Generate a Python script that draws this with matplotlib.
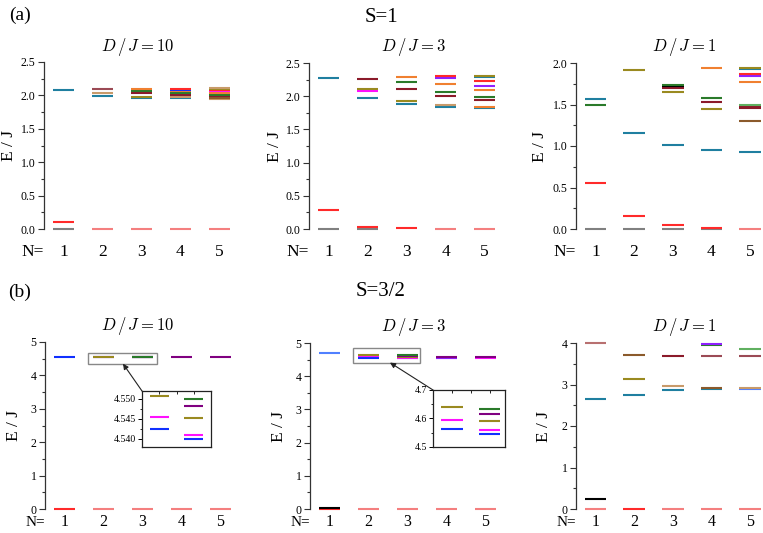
import matplotlib
matplotlib.use('Agg')
import matplotlib.pyplot as plt
import numpy as np
from matplotlib.patches import Rectangle, ConnectionPatch
from matplotlib.ticker import MultipleLocator, FormatStrFormatter

plt.rcParams['font.family'] = ['Liberation Serif', 'DejaVu Serif']
plt.rcParams['mathtext.fontset'] = 'cm'

# ---------------- colours ----------------
GRAY = '#808080'; RED = '#ff2a2a'; SALMON = '#f47f7f'; TEAL = '#1f7fa0'
GREEN = '#2a7a2a'; DKRED = '#8b1a2a'; OLIVE = '#9a8a20'; MAG = '#ff10ff'
BLUE = '#1030ff'; PURPLE = '#800080'; VIOLET = '#9020ff'; ORANGE = '#f08030'
TAN = '#c89a6a'; BROWN = '#8b5a2b'; BLACK = '#000000'; ROSE = '#b87070'
RBROWN = '#9b4a55'; LGREEN = '#60b060'; LBLUE = '#5080ff'

# ---------------- data ----------------
n_values = [1, 2, 3, 4, 5]

# S=1, D/J=10
a1_N = [1, 1, 1,
        2, 2, 2, 2,
        3, 3, 3, 3, 3, 3,
        4, 4, 4, 4, 4, 4, 4, 4,
        5, 5, 5, 5, 5, 5, 5, 5, 5, 5]
a1_E = [0.0, 0.10, 2.086,
        0.0, 2.091, 2.036, 1.991,
        0.0, 2.101, 2.071, 2.036, 1.976, 1.961,
        0.0, 2.103, 2.086, 2.061, 2.036, 2.011, 1.971, 1.956,
        0.0, 2.111, 2.101, 2.076, 2.061, 2.036, 2.011, 1.986, 1.961, 1.951]
a1_c = [GRAY, RED, TEAL,
        SALMON, RBROWN, TAN, TEAL,
        SALMON, ORANGE, GREEN, DKRED, OLIVE, TEAL,
        SALMON, RED, BLUE, ORANGE, GREEN, DKRED, TAN, TEAL,
        SALMON, TAN, OLIVE, RED, MAG, ORANGE, GREEN, DKRED, BROWN, TAN]

# S=1, D/J=3
a2_N = [1, 1, 1,
        2, 2, 2, 2, 2, 2,
        3, 3, 3, 3, 3, 3,
        4, 4, 4, 4, 4, 4, 4, 4,
        5, 5, 5, 5, 5, 5, 5, 5, 5, 5]
a2_E = [0.0, 0.28, 2.28,
        0.0, 0.03, 2.26, 2.11, 2.08, 1.98,
        0.01, 2.29, 2.21, 2.11, 1.93, 1.89,
        0.0, 2.31, 2.27, 2.19, 2.07, 2.01, 1.87, 1.84,
        0.0, 2.31, 2.29, 2.23, 2.16, 2.09, 1.99, 1.94, 1.83, 1.82]
a2_c = [GRAY, RED, TEAL,
        GRAY, RED, DKRED, OLIVE, MAG, TEAL,
        RED, ORANGE, GREEN, DKRED, OLIVE, TEAL,
        SALMON, RED, VIOLET, ORANGE, GREEN, DKRED, TAN, TEAL,
        SALMON, OLIVE, TEAL, RED, VIOLET, ORANGE, GREEN, DKRED, ORANGE, TEAL]

# S=1, D/J=1
a3_N = [1, 1, 1, 1,
        2, 2, 2, 2,
        3, 3, 3, 3, 3, 3, 3,
        4, 4, 4, 4, 4, 4, 4,
        5, 5, 5, 5, 5, 5, 5, 5, 5, 5, 5]
a3_E = [0.0, 0.56, 1.49, 1.565,
        0.0, 0.16, 1.155, 1.92,
        0.0, 0.05, 1.015, 1.65, 1.70, 1.72, 1.74,
        0.0, 0.015, 0.955, 1.445, 1.525, 1.575, 1.94,
        0.0, 0.925, 1.297, 1.46, 1.475, 1.494, 1.775, 1.84, 1.87, 1.93, 1.94]
a3_c = [GRAY, RED, GREEN, TEAL,
        GRAY, RED, TEAL, OLIVE,
        GRAY, RED, TEAL, OLIVE, DKRED, BLACK, GREEN,
        GRAY, RED, TEAL, OLIVE, DKRED, GREEN, ORANGE,
        SALMON, TEAL, BROWN, DKRED, DKRED, LGREEN, ORANGE, VIOLET, RED, TEAL, OLIVE]

# S=3/2, D/J=10
b1_N = [1, 1,
        2, 2, 2, 2,
        3, 3, 3, 3, 3, 3,
        4, 4,
        5, 5]
b1_E = [0.0, 4.550,
        0.0, 4.5508, 4.5456, 4.5424,
        0.0, 4.5500, 4.5483, 4.5452, 4.5410, 4.5401,
        0.0, 4.545,
        0.0, 4.545]
b1_c = [RED, BLUE,
        SALMON, OLIVE, MAG, BLUE,
        SALMON, GREEN, PURPLE, OLIVE, MAG, BLUE,
        SALMON, PURPLE,
        SALMON, PURPLE]

# S=3/2, D/J=3
b2_N = [1, 1, 1,
        2, 2, 2, 2,
        3, 3, 3, 3, 3, 3,
        4, 4, 4, 4,
        5, 5, 5]
b2_E = [0.0, 0.03, 4.70,
        0.0, 4.641, 4.595, 4.563,
        0.0, 4.635, 4.616, 4.592, 4.558, 4.546,
        0.0, 4.545, 4.56, 4.575,
        0.0, 4.55, 4.565]
b2_c = [RED, BLACK, LBLUE,
        SALMON, OLIVE, MAG, BLUE,
        SALMON, GREEN, PURPLE, OLIVE, MAG, BLUE,
        SALMON, MAG, VIOLET, PURPLE,
        SALMON, MAG, PURPLE]

# S=3/2, D/J=1
b3_N = [1, 1, 1, 1,
        2, 2, 2, 2,
        3, 3, 3, 3,
        4, 4, 4, 4, 4, 4,
        5, 5, 5, 5, 5]
b3_E = [0.0, 0.23, 2.64, 4.0,
        0.0, 2.75, 3.14, 3.72,
        0.0, 2.87, 2.97, 3.69,
        0.0, 2.90, 2.92, 3.69, 3.955, 3.975,
        0.0, 2.90, 2.92, 3.69, 3.855]
b3_c = [SALMON, BLACK, TEAL, ROSE,
        RED, TEAL, OLIVE, BROWN,
        SALMON, TEAL, TAN, DKRED,
        SALMON, TEAL, BROWN, RBROWN, GREEN, VIOLET,
        SALMON, LBLUE, TAN, RBROWN, LGREEN]

row_titles = ['S=1', 'S=3/2']
panel_titles = [r'$D\,/\,J = 10$', r'$D\,/\,J = 3$', r'$D\,/\,J = 1$']

# ---------------- figure ----------------
W, H = 763, 533
fig = plt.figure(figsize=(W / 100, H / 100), dpi=100)
HW = 0.28


def px_axes(x0, x1, ytop, ybot):
    return fig.add_axes([x0 / W, (H - ybot) / H, (x1 - x0) / W, (ybot - ytop) / H])


def style_main(ax, xlim, ylim, major, fmt, label_off, xpad, xsize, n_off, n_size):
    ax.set_xlim(*xlim)
    ax.set_ylim(*ylim)
    for s in ['top', 'right', 'bottom']:
        ax.spines[s].set_visible(False)
    ax.spines['left'].set_color('#333333')
    ax.spines['left'].set_linewidth(0.9)
    ax.set_xticks(n_values)
    ax.set_xticklabels([str(n) for n in n_values])
    ax.tick_params(axis='x', length=0, pad=xpad, labelsize=xsize)
    ax.yaxis.set_major_locator(MultipleLocator(major))
    ax.yaxis.set_minor_locator(MultipleLocator(major / 2))
    ax.yaxis.set_major_formatter(FormatStrFormatter(fmt))
    ax.tick_params(axis='y', which='major', direction='out', length=4, width=0.8,
                   labelsize=8.5, pad=2, color='#333333')
    ax.tick_params(axis='y', which='minor', direction='out', length=2, width=0.8,
                   color='#333333')
    ax.set_ylabel('E / J', fontsize=12.5)
    bb = ax.get_position()
    ax.yaxis.set_label_coords(-label_off / (bb.width * W), 0.5)
    ax.text(0.0, -n_off / (bb.height * H), 'N=', transform=ax.transAxes,
            ha='right', va='top', fontsize=n_size)


def draw(ax, Ns, Es, cs, clip=False):
    order = np.argsort(np.asarray(Es), kind='stable')
    Ns = np.asarray(Ns, dtype=float)[order]
    Es = np.asarray(Es)[order]
    cs = [cs[i] for i in order]
    ax.hlines(Es, Ns - HW, Ns + HW, colors=cs, lw=1.5, clip_on=clip)


# row (a)
ax_a1 = px_axes(44, 239, 62, 229)
ax_a2 = px_axes(309, 504, 63, 229)
ax_a3 = px_axes(576, 763, 63, 229)
# row (b)
ax_b1 = px_axes(45, 240, 342, 509)
ax_b2 = px_axes(310, 505, 343, 509)
ax_b3 = px_axes(576, 763, 343, 509)

style_main(ax_a1, (0.5, 5.5), (0, 2.5), 0.5, '%.1f', 27, 11, 12.5, 15, 12.5)
style_main(ax_a2, (0.5, 5.5), (0, 2.5), 0.5, '%.1f', 26, 11, 12.5, 15, 12.5)
style_main(ax_a3, (0.5, 5.335), (0, 2.0), 0.5, '%.1f', 28, 11, 12.5, 15, 12.5)
style_main(ax_b1, (0.5, 5.5), (0, 5), 1, '%d', 23, 3.5, 11.5, 7, 11)
style_main(ax_b2, (0.5, 5.5), (0, 5), 1, '%d', 23, 3.5, 11.5, 7, 11)
style_main(ax_b3, (0.5, 5.335), (0, 4), 1, '%d', 24, 3.5, 11.5, 7, 11)

draw(ax_a1, a1_N, a1_E, a1_c)
draw(ax_a2, a2_N, a2_E, a2_c)
draw(ax_a3, a3_N, a3_E, a3_c)
draw(ax_b1, b1_N, b1_E, b1_c)
draw(ax_b2, b2_N, b2_E, b2_c)
draw(ax_b3, b3_N, b3_E, b3_c)

# panel titles
for (xc, yc), t in zip([(137.5, 47.5), (413.5, 47.5), (684, 47.5)], panel_titles):
    fig.text(xc / W, 1 - yc / H, t, ha='center', va='center', fontsize=12)
for (xc, yc), t in zip([(137, 326), (413.5, 327), (684, 327)], panel_titles):
    fig.text(xc / W, 1 - yc / H, t, ha='center', va='center', fontsize=12)

fig.text(381 / W, 1 - 17 / H, row_titles[0], ha='center', va='center', fontsize=15)
fig.text(381 / W, 1 - 292 / H, row_titles[1], ha='center', va='center', fontsize=15)
fig.text(20 / W, 1 - 15 / H, '(a)', ha='center', va='center', fontsize=14)
fig.text(20 / W, 1 - 292 / H, '(b)', ha='center', va='center', fontsize=14)


# ---------------- insets ----------------
def make_inset(main_ax, rect_px, xlim, ylim, major, fmt, Ns, Es, cs, box, head):
    x0, x1, yt, yb = rect_px
    ins = px_axes(x0, x1, yt, yb)
    ins.set_xlim(*xlim)
    ins.set_ylim(*ylim)
    for s in ins.spines.values():
        s.set_color('#222222')
        s.set_linewidth(0.9)
    ins.set_xticks([2, 2.5, 3])
    ins.tick_params(axis='x', top=True, bottom=False, labeltop=False, labelbottom=False,
                    direction='in', length=2.5, width=0.6)
    ins.yaxis.set_major_locator(MultipleLocator(major))
    ins.yaxis.set_minor_locator(MultipleLocator(major / 2))
    ins.yaxis.set_major_formatter(FormatStrFormatter(fmt))
    ins.tick_params(axis='y', which='major', direction='out', length=3, width=0.7,
                    labelsize=7, pad=1.5)
    ins.tick_params(axis='y', which='minor', direction='out', length=1.5, width=0.6)
    sel = [i for i, n in enumerate(Ns) if n in (2, 3)]
    draw(ins, [Ns[i] for i in sel], [Es[i] for i in sel], [cs[i] for i in sel], clip=True)
    bx0, bx1, by0, by1 = box
    main_ax.add_patch(Rectangle((bx0, by0), bx1 - bx0, by1 - by0, fill=False,
                                edgecolor='#888888', lw=1.0, clip_on=False, zorder=5))
    con = ConnectionPatch(xyA=(0, 1), coordsA=ins.transAxes, xyB=head,
                          coordsB=main_ax.transData, arrowstyle='-|>',
                          mutation_scale=8, color='#222222', lw=0.8)
    fig.add_artist(con)
    return ins


make_inset(ax_b1, (142, 211, 391, 447), (1.5, 3.5), (4.538, 4.552), 0.005, '%.3f',
           b1_N, b1_E, b1_c, (1.6, 3.37, 4.35, 4.67), (2.5, 4.35))
make_inset(ax_b2, (433, 505, 390, 447), (1.5, 3.4), (4.5, 4.7), 0.1, '%.1f',
           b2_N, b2_E, b2_c, (1.6, 3.32, 4.41, 4.85), (2.55, 4.41))

fig.savefig('out.png', dpi=100)
